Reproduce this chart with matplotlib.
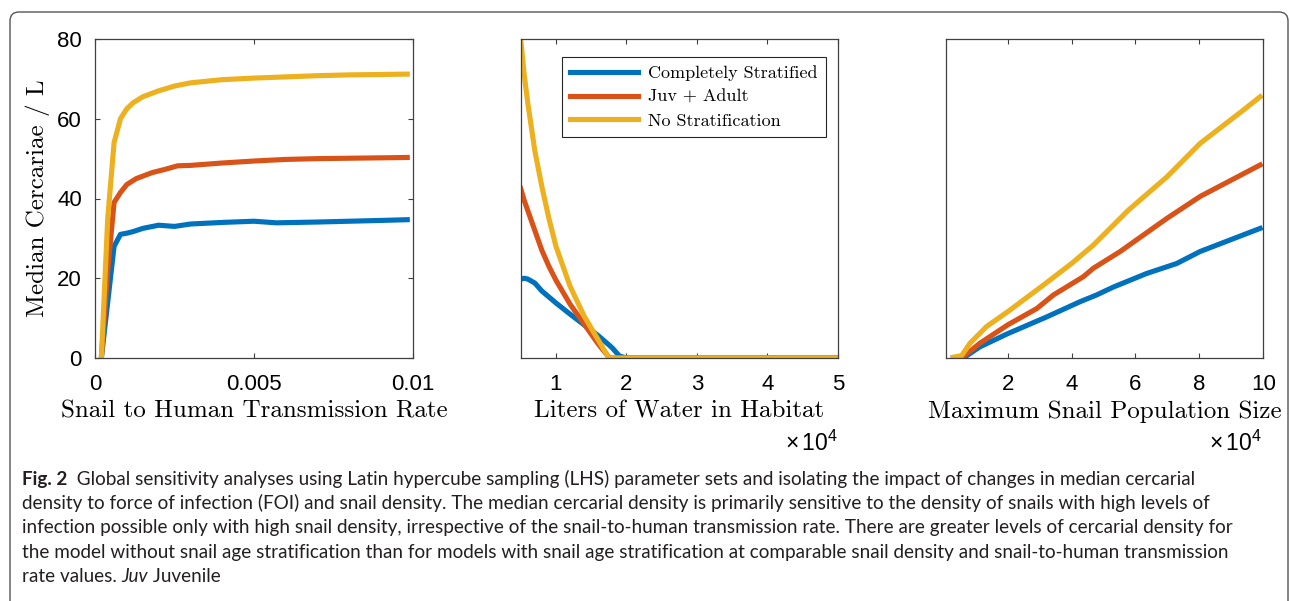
import numpy as np
import matplotlib
matplotlib.use("Agg")
import matplotlib.pyplot as plt
from matplotlib.patches import FancyBboxPatch

# MATLAB default line colours
BLUE, RED, YELLOW = "#0072BD", "#D95319", "#EDB120"
series_names = ["Completely Stratified", "Juv + Adult", "No Stratification"]

# panel 1: snail to human transmission rate
rate_blue = [0.0002, 0.0004, 0.0006, 0.0008, 0.001, 0.0012, 0.0015, 0.002, 0.0025,
             0.003, 0.004, 0.005, 0.0057, 0.007, 0.008, 0.009, 0.0099]
cerc_blue = [0, 14, 28, 31, 31.3, 31.7, 32.5, 33.3, 33.0, 33.6, 34.0, 34.3, 33.9,
             34.1, 34.3, 34.5, 34.7]
rate_red = [0.0002, 0.0004, 0.0006, 0.0008, 0.001, 0.0013, 0.0018, 0.0022, 0.0026,
            0.003, 0.004, 0.005, 0.006, 0.007, 0.008, 0.009, 0.0099]
cerc_red = [0, 22, 39, 41.5, 43.5, 45, 46.5, 47.3, 48.2, 48.3, 48.9, 49.4, 49.8,
            50.0, 50.1, 50.2, 50.3]
rate_yel = [0.0002, 0.0004, 0.0006, 0.0008, 0.001, 0.0012, 0.0015, 0.002, 0.0025,
            0.003, 0.004, 0.005, 0.006, 0.007, 0.008, 0.009, 0.0099]
cerc_yel = [0, 35, 54, 60, 62.5, 64, 65.5, 67, 68.2, 69, 69.8, 70.2, 70.5, 70.8,
            71.0, 71.1, 71.2]

# panel 2: liters of water in habitat (x 1e4)
water = [0.5, 0.55, 0.6, 0.7, 0.8, 0.9, 1.0, 1.2, 1.4, 1.6, 1.75, 1.8, 1.9, 2.0,
         3.0, 4.0, 5.0]
w_blue = [19.8, 20.0, 19.8, 18.8, 16.8, 15.3, 13.8, 11.0, 8.3, 5.6, 3.3, 2.5, 0.5,
          0, 0, 0, 0]
w_red = [42.5, 39.5, 37, 32, 27, 23, 19.5, 13.5, 8.5, 3.5, 0.2, 0, 0, 0, 0, 0, 0]
w_yel = [80, 71, 64, 52, 43, 35, 28, 18, 10.5, 4.5, 0, 0, 0, 0, 0, 0, 0]

# panel 3: maximum snail population size (x 1e4)
pop_blue = [0.3, 0.61, 1.13, 2.0, 3.22, 4.26, 4.78, 5.31, 6.35, 7.29, 8.02, 9.9]
p_blue = [0, 0, 2.8, 6.1, 10.3, 14.1, 15.8, 17.8, 21.2, 23.7, 26.7, 32.5]
pop_red = [0.3, 0.56, 1.13, 2.0, 2.91, 3.43, 4.37, 4.68, 5.52, 6.98, 8.02, 9.9]
p_red = [0, 0, 3.7, 8.3, 12.4, 15.8, 20.4, 22.5, 26.7, 35.0, 40.5, 48.4]
pop_yel = [0.3, 0.56, 0.82, 1.34, 2.0, 3.12, 4.0, 4.68, 5.78, 6.98, 8.02, 9.38, 9.9]
p_yel = [0.2, 0.6, 3.7, 7.9, 11.6, 18.3, 23.7, 28.3, 37.1, 45.4, 53.8, 62.2, 65.5]

caption_lines = [
    "Global sensitivity analyses using Latin hypercube sampling (LHS) parameter sets and isolating the impact of changes in median cercarial",
    "density to force of infection (FOI) and snail density. The median cercarial density is primarily sensitive to the density of snails with high levels of",
    "infection possible only with high snail density, irrespective of the snail-to-human transmission rate. There are greater levels of cercarial density for",
    "the model without snail age stratification than for models with snail age stratification at comparable snail density and snail-to-human transmission",
]

plt.rcParams["mathtext.fontset"] = "custom"
plt.rcParams["mathtext.rm"] = "Liberation Sans"
plt.rcParams["mathtext.it"] = "Liberation Sans"

W, H = 1290, 601
fig = plt.figure(figsize=(W / 100, H / 100), dpi=100)

cm = dict(family="cmr10", size=18.0)
tick_font = "Liberation Sans"
LW = 3.7


def style(ax):
    for s in ax.spines.values():
        s.set_color("#404040")
        s.set_linewidth(0.9)
    ax.tick_params(direction="in", length=3.3, width=0.8, color="#404040",
                   top=True, right=True, labelsize=16)
    ax.tick_params(axis="x", pad=11.5)
    ax.tick_params(axis="y", pad=9.5)
    for lab in ax.get_xticklabels() + ax.get_yticklabels():
        lab.set_family(tick_font)


def px_axes(left, right, top, bottom):
    return fig.add_axes([left / W, 1 - bottom / H, (right - left) / W, (bottom - top) / H])


ax1 = px_axes(95, 413, 39, 358)
ax1.plot(rate_blue, cerc_blue, color=BLUE, lw=LW, solid_capstyle="butt")
ax1.plot(rate_red, cerc_red, color=RED, lw=LW, solid_capstyle="butt")
ax1.plot(rate_yel, cerc_yel, color=YELLOW, lw=LW, solid_capstyle="butt")
ax1.set_xlim(0, 0.01)
ax1.set_ylim(0, 80)
ax1.set_xticks([0, 0.005, 0.01])
ax1.set_xticklabels(["0", "0.005", "0.01"])
ax1.set_yticks([0, 20, 40, 60, 80])
ax1.set_xlabel("Snail to Human Transmission Rate", labelpad=4, **cm)
ax1.set_ylabel("Median Cercariae / L", labelpad=5, **cm)
style(ax1)

ax2 = px_axes(520.7, 838, 39, 358)
l1, = ax2.plot(water, w_blue, color=BLUE, lw=LW)
l2, = ax2.plot(water, w_red, color=RED, lw=LW)
l3, = ax2.plot(water, w_yel, color=YELLOW, lw=LW)
ax2.set_xlim(0.5, 5)
ax2.set_ylim(0, 80)
ax2.set_xticks([1, 2, 3, 4, 5])
ax2.set_yticks([])
ax2.set_xlabel("Liters of Water in Habitat", labelpad=4, **cm)
style(ax2)
leg = ax2.legend([l1, l2, l3], series_names, loc="upper right",
                 bbox_to_anchor=(826 / W, 1 - 57.3 / H), bbox_transform=fig.transFigure,
                 borderaxespad=0, fancybox=False, framealpha=1, edgecolor="#262626",
                 prop=dict(family="cmr10", size=13.0), handlelength=3.8,
                 handletextpad=0.55, labelspacing=0.45, borderpad=0.45)
leg.get_frame().set_linewidth(0.8)

ax3 = px_axes(945.7, 1263.3, 39, 358)
ax3.plot(pop_blue, p_blue, color=BLUE, lw=LW)
ax3.plot(pop_red, p_red, color=RED, lw=LW)
ax3.plot(pop_yel, p_yel, color=YELLOW, lw=LW)
ax3.set_xlim(0.06, 10)
ax3.set_ylim(0, 80)
ax3.set_xticks([2, 4, 6, 8, 10])
ax3.set_yticks([])
ax3.set_xlabel("Maximum Snail Population Size", labelpad=4, **cm)
style(ax3)

for xr in (838, 1262):
    fig.text(xr / W, 1 - 451 / H, r"$\times\,10^{4}$", ha="right", va="baseline",
             fontsize=16.5)

# rounded caption frame, open at the bottom
frame = FancyBboxPatch((0.10, -0.5), 12.78, 6.39,
                       boxstyle="round,pad=0,rounding_size=0.09",
                       transform=fig.dpi_scale_trans, facecolor="none",
                       edgecolor="#555555", lw=1.0, clip_on=False)
fig.patches.append(frame)

# caption text
cap = dict(family="Lato", size=13.6, color="#231f20")
baselines = [484.5, 509, 533.5, 558, 582.5]
renderer = fig.canvas.get_renderer()


def run_text(x_px, y_px, parts):
    for txt, kw in parts:
        t = fig.text(x_px / W, 1 - y_px / H, txt, va="baseline", ha="left", **kw)
        bb = t.get_window_extent(renderer=renderer)
        x_px += bb.width


run_text(22, baselines[0], [("Fig. 2", dict(cap, weight="bold")),
                             ("  " + caption_lines[0], cap)])
for i in range(1, 4):
    run_text(22, baselines[i], [(caption_lines[i], cap)])
run_text(22, baselines[4], [("rate values. ", cap), ("Juv", dict(cap, style="italic")),
                            (" Juvenile", cap)])

fig.savefig("out.png", dpi=100)
